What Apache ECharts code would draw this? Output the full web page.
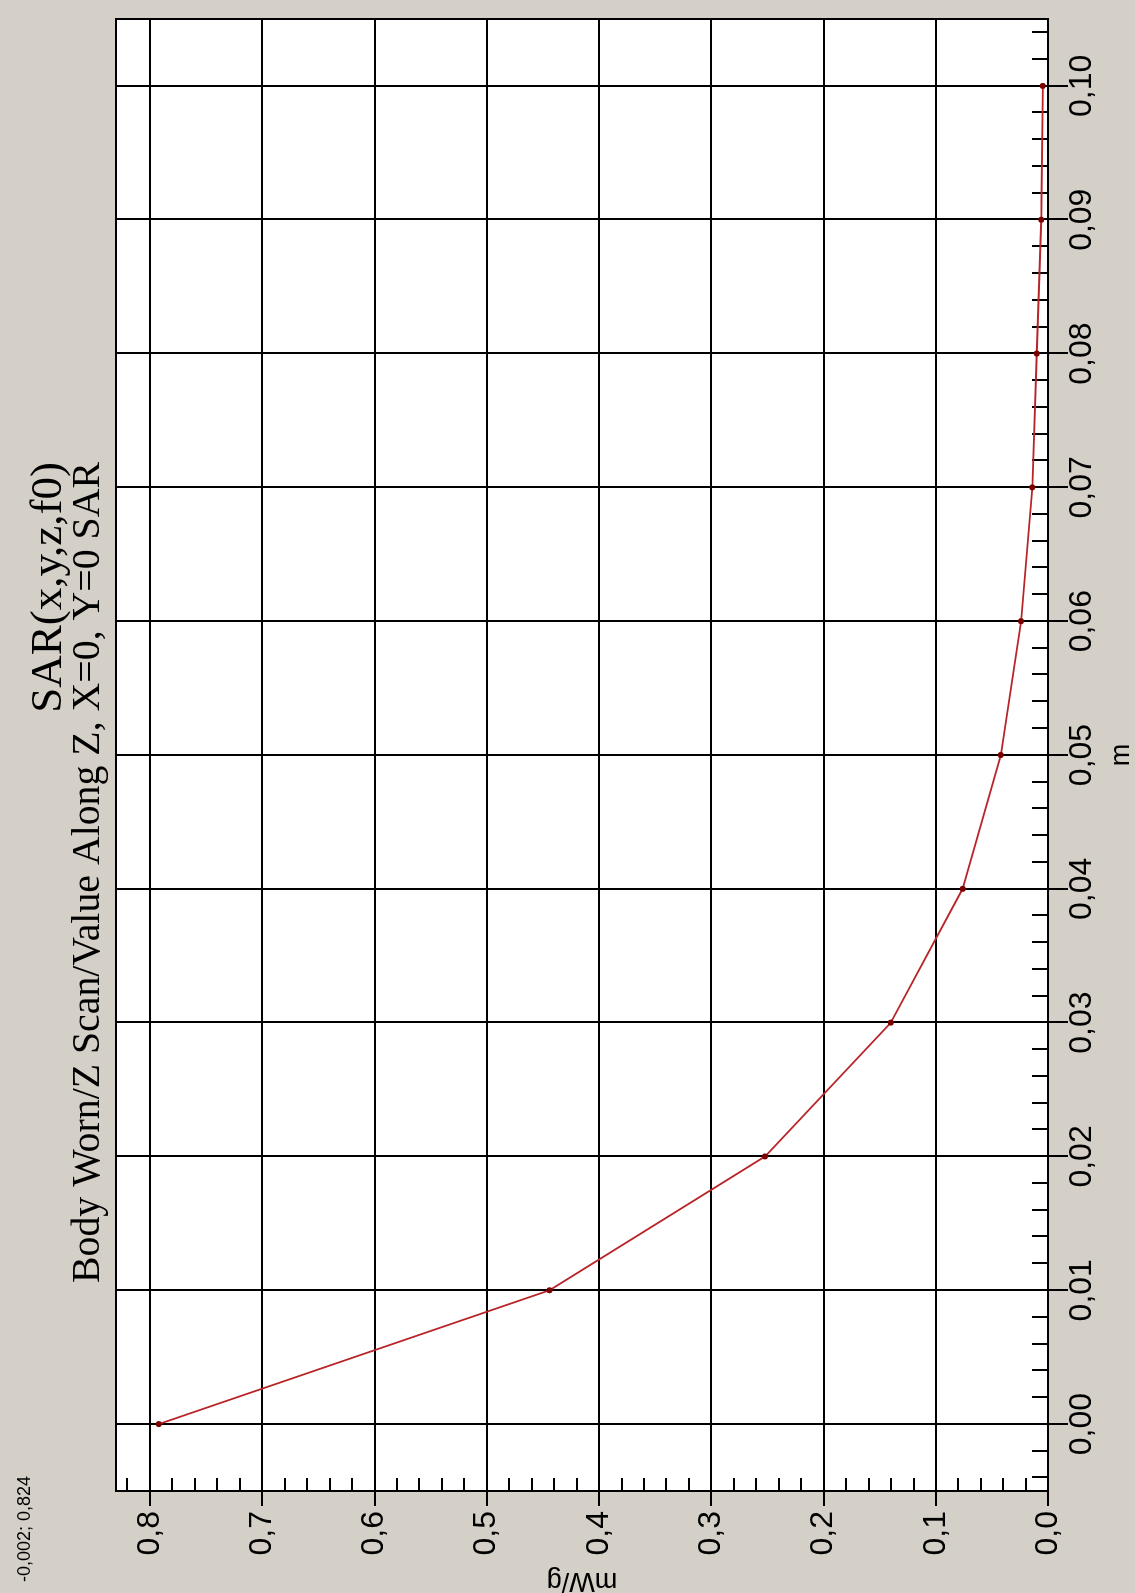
<!DOCTYPE html>
<html>
<head>
<meta charset="utf-8">
<script src="https://cdn.jsdelivr.net/npm/echarts@6/dist/echarts.min.js"></script>
<style>
  html, body { margin: 0; padding: 0; background: #d4d0c8; overflow: hidden; width: 1135px; height: 1593px; }
  #wrap { position: absolute; left: 0; top: 0; width: 1593px; height: 1135px;
          transform-origin: 0 0; transform: translate(0px, 1593px) rotate(-90deg); }
</style>
</head>
<body>
<div id="wrap"></div>
<script>
// ---- data ----
const DEPTH_M = [0.00, 0.01, 0.02, 0.03, 0.04, 0.05, 0.06, 0.07, 0.08, 0.09, 0.10];
const SAR_MWG = [0.792, 0.444, 0.252, 0.140, 0.076, 0.042, 0.024, 0.014, 0.010, 0.006, 0.0046];

// ---- axis ticks / labels ----
const M_TICKS  = [0.00, 0.01, 0.02, 0.03, 0.04, 0.05, 0.06, 0.07, 0.08, 0.09, 0.10];
const M_LABELS = ['0,00','0,01','0,02','0,03','0,04','0,05','0,06','0,07','0,08','0,09','0,10'];
const SAR_TICKS  = [0.0, 0.1, 0.2, 0.3, 0.4, 0.5, 0.6, 0.7, 0.8];
const SAR_LABELS = ['0,0','0,1','0,2','0,3','0,4','0,5','0,6','0,7','0,8'];
const M_RANGE = [-0.005, 0.105];
const SAR_RANGE = [0, 0.83];
const M_MINOR_STEP = 0.002;
const SAR_MINOR_STEP = 0.02;

const TITLE = 'SAR(x,y,z,f0)';
const SUBTITLE = 'Body Worn/Z Scan/Value Along Z, X=0, Y=0 SAR';
const CURSOR_TEXT = '-0,002; 0,824';
const X_NAME = 'm';
const Y_NAME = 'mW/g';

function minorTicks(range, step) {
  const out = [];
  const start = Math.ceil(range[0] / step - 1e-9);
  const end = Math.floor(range[1] / step + 1e-9);
  for (let i = start; i <= end; i++) out.push(+(i * step).toFixed(6));
  return out;
}
function labelFor(ticks, labels) {
  return function (v) {
    const i = ticks.findIndex(t => Math.abs(t - v) < 1e-9);
    return i >= 0 ? labels[i] : '';
  };
}

const chart = echarts.init(document.getElementById('wrap'), null, { renderer: 'canvas', width: 1593, height: 1135 });
const SANS = "'Liberation Sans', Arial, sans-serif";
const SERIF = "'Liberation Serif', 'Times New Roman', serif";
const black2 = { color: '#000', width: 2 };

chart.setOption({
  animation: false,
  backgroundColor: '#d4d0c8',
  graphic: [{
    type: 'text', x: 1131, y: 49,
    style: { text: TITLE, font: "45px " + SERIF, fill: '#000', align: 'right', verticalAlign: 'middle' }
  }, {
    type: 'text', x: 1131, y: 89,
    style: { text: SUBTITLE, font: "39.8px " + SERIF, fill: '#000', align: 'right', verticalAlign: 'middle' }
  }, {
    type: 'text', x: 11, y: 25,
    style: { text: CURSOR_TEXT, font: "18px " + SANS, fill: '#000', align: 'left', verticalAlign: 'middle' }
  }],
  grid: {
    left: 102, right: 19, top: 116, bottom: 87,
    containLabel: false, outerBoundsMode: 'none',
    show: true, backgroundColor: '#fff', borderColor: '#000', borderWidth: 2
  },
  xAxis: [{
    type: 'value', position: 'bottom', min: M_RANGE[0], max: M_RANGE[1],
    name: X_NAME, nameLocation: 'middle', nameGap: 60,
    nameTextStyle: { fontFamily: SANS, fontSize: 27, color: '#000' },
    axisLine: { show: true, onZero: false, lineStyle: black2 },
    axisTick: { show: true, inside: false, length: 20, lineStyle: black2, customValues: M_TICKS },
    axisLabel: { show: true, margin: 18, fontFamily: SANS, fontSize: 32, color: '#000',
                 customValues: M_TICKS, formatter: labelFor(M_TICKS, M_LABELS) },
    splitLine: { show: true, lineStyle: black2 }
  }, {
    type: 'value', position: 'bottom', min: M_RANGE[0], max: M_RANGE[1],
    axisLine: { show: false, onZero: false },
    axisTick: { show: true, inside: true, length: 16, lineStyle: black2,
                customValues: minorTicks(M_RANGE, M_MINOR_STEP) },
    axisLabel: { show: false },
    splitLine: { show: false }
  }],
  yAxis: [{
    type: 'value', position: 'left', min: SAR_RANGE[0], max: SAR_RANGE[1],
    name: Y_NAME, nameLocation: 'middle', nameGap: 76, nameRotate: 90,
    nameTextStyle: { fontFamily: SANS, fontSize: 27, color: '#000' },
    axisLine: { show: true, onZero: false, lineStyle: black2 },
    axisTick: { show: true, inside: false, length: 15, lineStyle: black2, customValues: SAR_TICKS },
    axisLabel: { show: true, margin: 20, fontFamily: SANS, fontSize: 32, color: '#000',
                 customValues: SAR_TICKS, formatter: labelFor(SAR_TICKS, SAR_LABELS) },
    splitLine: { show: true, lineStyle: black2 }
  }, {
    type: 'value', position: 'left', min: SAR_RANGE[0], max: SAR_RANGE[1],
    axisLine: { show: false, onZero: false },
    axisTick: { show: true, inside: true, length: 13, lineStyle: black2,
                customValues: minorTicks(SAR_RANGE, SAR_MINOR_STEP) },
    axisLabel: { show: false },
    splitLine: { show: false }
  }],
  series: [{
    type: 'line',
    xAxisIndex: 0, yAxisIndex: 0,
    data: DEPTH_M.map((m, i) => [m, SAR_MWG[i]]),
    symbol: 'circle', symbolSize: 6,
    itemStyle: { color: '#7a0000' },
    lineStyle: { color: '#b82428', width: 1.8 },
    z: 5
  }]
});
</script>
</body>
</html>
